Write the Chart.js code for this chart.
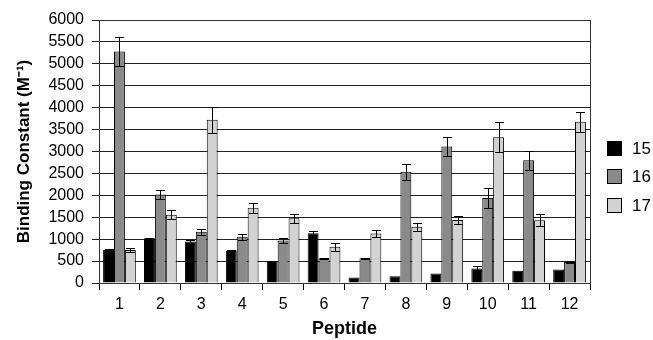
<!DOCTYPE html>
<html>
<head>
<meta charset="utf-8">
<script src="https://cdn.jsdelivr.net/npm/chart.js@4.4.1/dist/chart.umd.min.js"></script>
<style>
  html, body { margin: 0; padding: 0; background: #fff; }
  canvas { display: block; }
</style>
</head>
<body>
<canvas id="chart" width="653" height="340"></canvas>
<script>
// peptide numbers on the x axis
const peptides = ['1', '2', '3', '4', '5', '6', '7', '8', '9', '10', '11', '12'];
const seriesNames = ['15', '16', '17'];

// binding constants (M^-1)
const k15 = [755, 1020, 945, 740, 500, 1135, 125, 155, 215, 330, 280, 310];
const k16 = [5280, 2020, 1170, 1055, 970, 565, 565, 2540, 3115, 1940, 2800, 480];
const k17 = [755, 1555, 3725, 1715, 1475, 825, 1130, 1285, 1440, 3325, 1430, 3680];

// +/- error for each bar
const err15 = [20, 15, 45, 10, 0, 40, 0, 0, 0, 60, 0, 0];
const err16 = [325, 100, 70, 70, 60, 10, 15, 180, 225, 225, 220, 30];
const err17 = [40, 100, 295, 115, 100, 85, 80, 90, 90, 340, 135, 225];

const yTicks = [0, 500, 1000, 1500, 2000, 2500, 3000, 3500, 4000, 4500, 5000, 5500, 6000];

const fills = ['#000000', '#8a8a8a', '#d2d2d2'];
const FONT = "'Liberation Sans', Arial, sans-serif";

// error bars, drawn at each bar through the y scale
const errorBars = {
  id: 'errorBars',
  afterDatasetsDraw(chart) {
    const ctx = chart.ctx;
    const y = chart.scales.y;
    ctx.save();
    ctx.strokeStyle = '#000';
    ctx.lineWidth = 1;
    chart.data.datasets.forEach((ds, i) => {
      const meta = chart.getDatasetMeta(i);
      meta.data.forEach((bar, j) => {
        const e = ds.errors[j];
        if (!e) return;
        const v = ds.data[j];
        const top = Math.round(y.getPixelForValue(v + e)) + 0.5;
        const bot = Math.round(y.getPixelForValue(v - e)) + 0.5;
        const x = Math.round(bar.x) + 0.5;
        ctx.beginPath();
        ctx.moveTo(x, top); ctx.lineTo(x, bot);
        ctx.moveTo(x - 4.5, top); ctx.lineTo(x + 4.5, top);
        ctx.moveTo(x - 4.5, bot); ctx.lineTo(x + 4.5, bot);
        ctx.stroke();
      });
    });
    ctx.restore();
  }
};

// frame round the plot area
const plotFrame = {
  id: 'plotFrame',
  beforeDatasetsDraw(chart) {
    const a = chart.chartArea;
    const ctx = chart.ctx;
    ctx.save();
    ctx.strokeStyle = '#333';
    ctx.lineWidth = 1;
    ctx.strokeRect(Math.round(a.left) + 0.5, Math.round(a.top) + 0.5,
      Math.round(a.right - a.left), Math.round(a.bottom - a.top));
    ctx.restore();
  }
};

// legend at the right, boxes plus labels from the datasets
const sideLegend = {
  id: 'sideLegend',
  afterDraw(chart) {
    const ctx = chart.ctx;
    const x0 = 607, y0 = 148, step = 28.5, box = 15;
    ctx.save();
    ctx.font = '17px ' + FONT;
    ctx.textBaseline = 'middle';
    ctx.textAlign = 'left';
    chart.data.datasets.forEach((ds, i) => {
      const cy = y0 + i * step;
      ctx.fillStyle = ds.backgroundColor;
      ctx.fillRect(x0, Math.round(cy - box / 2), box, box);
      ctx.strokeStyle = '#000';
      ctx.lineWidth = 1;
      ctx.strokeRect(x0 + 0.5, Math.round(cy - box / 2) + 0.5, box - 1, box - 1);
      ctx.fillStyle = '#000';
      ctx.fillText(ds.label, x0 + box + 10, cy + 1);
    });
    ctx.restore();
  }
};

const allValues = [k15, k16, k17];
const allErrors = [err15, err16, err17];

new Chart(document.getElementById('chart'), {
  type: 'bar',
  data: {
    labels: peptides,
    datasets: seriesNames.map((name, i) => ({
      label: name,
      data: allValues[i],
      errors: allErrors[i],
      backgroundColor: fills[i],
      borderColor: '#000',
      borderWidth: 1,
      categoryPercentage: 0.8,
      barPercentage: 1.0
    }))
  },
  options: {
    responsive: false,
    animation: false,
    layout: { padding: { left: 4, top: 20, right: 63, bottom: 0 } },
    plugins: {
      legend: { display: false },
      tooltip: { enabled: false }
    },
    scales: {
      x: {
        grid: { offset: true, drawOnChartArea: false, drawTicks: true, tickLength: 7, color: '#000' },
        border: { color: '#000' },
        ticks: { color: '#000', font: { family: FONT, size: 16 }, padding: 5 },
        title: { display: true, text: 'Peptide', color: '#000',
          font: { family: FONT, size: 18, weight: 'bold' }, padding: { top: 2, bottom: 0 } },
        afterFit(scale) { scale.height = 57; }
      },
      y: {
        min: yTicks[0],
        max: yTicks[yTicks.length - 1],
        afterBuildTicks(scale) { scale.ticks = yTicks.map(v => ({ value: v })); },
        grid: { color: '#222', tickLength: 7, drawTicks: true },
        border: { color: '#000' },
        ticks: { color: '#000', font: { family: FONT, size: 16 }, padding: 8,
          autoSkip: false, callback: v => String(v) },
        title: { display: true, text: 'Binding Constant (M\u207B\u00B9)', color: '#000',
          font: { family: FONT, size: 17, weight: 'bold' }, padding: { top: 10, bottom: 0 } },
        afterFit(scale) { scale.width = 95; }
      }
    }
  },
  plugins: [plotFrame, errorBars, sideLegend]
});
</script>
</body>
</html>
